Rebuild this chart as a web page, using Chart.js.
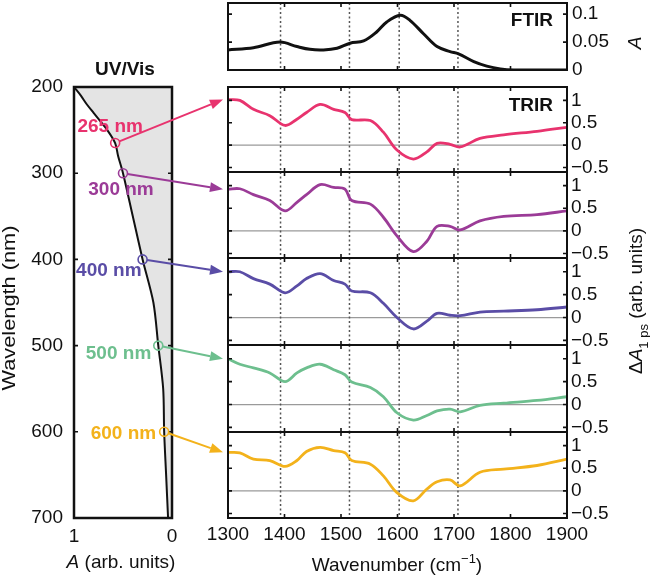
<!DOCTYPE html>
<html>
<head>
<meta charset="utf-8">
<script src="https://cdn.jsdelivr.net/npm/chart.js@4.4.1/dist/chart.umd.min.js"></script>
<style>
html, body { margin: 0; padding: 0; background: #fff; }
#wrap { position: relative; width: 650px; height: 577px; }
#wrap canvas { position: absolute; left: 0; top: 0; }
</style>
</head>
<body>
<div id="wrap">
  <canvas id="uv" width="650" height="577"></canvas>
  <canvas id="ftir" width="650" height="577"></canvas>
  <canvas id="tr0" width="650" height="577"></canvas>
  <canvas id="tr1" width="650" height="577"></canvas>
  <canvas id="tr2" width="650" height="577"></canvas>
  <canvas id="tr3" width="650" height="577"></canvas>
  <canvas id="tr4" width="650" height="577"></canvas>
  <canvas id="overlay" width="650" height="577"></canvas>
</div>
<script>
// ---- data ----
const uvWavelength = [200, 210, 220, 230, 240, 250, 265, 280, 300, 350, 400, 450, 500, 550, 600, 650, 700];
const uvAbs = [1.0, 0.93, 0.87, 0.80, 0.73, 0.66, 0.58, 0.55, 0.50, 0.40, 0.30, 0.19, 0.14, 0.09, 0.08, 0.06, 0.04];

const ftirWavenumber = [1300, 1345, 1392, 1422, 1445, 1469, 1493, 1516, 1540, 1563, 1581, 1605, 1622, 1646, 1670, 1693, 1708, 1735, 1758, 1782, 1806, 1850, 1900];
const ftirAbs = [0.036, 0.040, 0.050, 0.042, 0.037, 0.036, 0.039, 0.048, 0.052, 0.068, 0.086, 0.098, 0.089, 0.065, 0.042, 0.033, 0.029, 0.015, 0.007, 0.002, 0, 0, 0];

const trirWavenumber = [1300, 1321, 1345, 1374, 1401, 1422, 1439, 1463, 1487, 1507, 1519, 1552, 1575, 1599, 1628, 1652, 1670, 1693, 1711, 1746, 1788, 1847, 1900];
const trir265 = [1.02, 1.0, 0.80, 0.66, 0.44, 0.58, 0.73, 0.91, 0.80, 0.73, 0.57, 0.55, 0.29, -0.11, -0.31, -0.15, 0.04, 0.02, -0.04, 0.15, 0.23, 0.31, 0.40];
const trir300 = [0.92, 0.93, 0.80, 0.67, 0.44, 0.63, 0.80, 1.02, 0.96, 0.92, 0.67, 0.59, 0.30, -0.11, -0.46, -0.23, 0.10, 0.10, 0.02, 0.22, 0.32, 0.36, 0.44];
const trir400 = [1.0, 1.0, 0.85, 0.73, 0.54, 0.69, 0.85, 0.96, 0.81, 0.73, 0.58, 0.54, 0.31, 0, -0.25, -0.08, 0.09, 0.05, 0.04, 0.12, 0.14, 0.17, 0.23];
const trir500 = [1.0, 0.88, 0.80, 0.69, 0.50, 0.69, 0.80, 0.88, 0.76, 0.65, 0.49, 0.37, 0.17, -0.18, -0.34, -0.24, -0.14, -0.10, -0.16, -0.02, 0.03, 0.09, 0.17];
const trir600 = [0.85, 0.84, 0.70, 0.67, 0.54, 0.67, 0.87, 0.96, 0.89, 0.84, 0.67, 0.59, 0.33, -0.04, -0.22, 0.04, 0.20, 0.24, 0.11, 0.41, 0.48, 0.56, 0.70];
const trirSeries = [trir265, trir300, trir400, trir500, trir600];

const pumpWavelengths = [265, 300, 400, 500, 600];
const pumpLabels = ['265 nm', '300 nm', '400 nm', '500 nm', '600 nm'];
const pumpColors = ['#e8336e', '#9b3b97', '#5a4da6', '#6dbf8e', '#f3b21b'];

const markerLines = [1393, 1515, 1603, 1707];
const wnTicks = [1300, 1400, 1500, 1600, 1700, 1800, 1900];
const dATicks = [-0.5, 0, 0.5, 1];
const ftirTicks = [0, 0.05, 0.1];
const uvTicks = [200, 300, 400, 500, 600, 700];
const absTicks = [0, 1];

// ---- layout ----
const FONT = '"Liberation Sans", Arial, Helvetica, sans-serif';
Chart.defaults.font.family = FONT;
Chart.defaults.font.size = 19;
Chart.defaults.color = '#111';

const plotLeft = 228, plotRight = 567;
const panelEdges = [87, 172, 258, 345, 432, 518];
const fmt = v => (v < 0 ? '\u2212' + Math.abs(v) : String(v));
const setTicks = list => (s => { s.ticks = list.map(v => ({ value: v })); });
// fix an axis size and drop the label overflow padding so the plot box lands where we put it
const fixW = w => (s => { s.width = w; s.paddingTop = 0; s.paddingBottom = 0; });
const fixH = h => (s => { s.height = h; s.paddingLeft = 0; s.paddingRight = 0; });

// frame, inner ticks, dotted lines, zero line
const panelDeco = {
  id: 'panelDeco',
  beforeDatasetsDraw(chart, args, o) {
    const { ctx, chartArea: a, scales: { x, y } } = chart;
    ctx.save();
    if (o.zero) {
      const py = y.getPixelForValue(0);
      ctx.strokeStyle = '#9a9a9a'; ctx.lineWidth = 1.2;
      ctx.beginPath(); ctx.moveTo(a.left, py); ctx.lineTo(a.right, py); ctx.stroke();
    }
    if (o.markers) {
      ctx.strokeStyle = '#555'; ctx.lineWidth = 1.5; ctx.setLineDash([2, 2.5]);
      o.markers.forEach(m => {
        const px = x.getPixelForValue(m);
        ctx.beginPath(); ctx.moveTo(px, a.top); ctx.lineTo(px, a.bottom); ctx.stroke();
      });
      ctx.setLineDash([]);
    }
    ctx.restore();
  },
  afterDraw(chart, args, o) {
    const { ctx, chartArea: a, scales: { x, y } } = chart;
    const t = 4;
    ctx.save();
    ctx.strokeStyle = '#111'; ctx.lineWidth = 1.6;
    ctx.beginPath();
    (o.xTicks || []).forEach(v => {
      const px = x.getPixelForValue(v);
      ctx.moveTo(px, a.top); ctx.lineTo(px, a.top + t);
      ctx.moveTo(px, a.bottom); ctx.lineTo(px, a.bottom - t);
    });
    (o.yTicks || []).forEach(v => {
      const py = y.getPixelForValue(v);
      ctx.moveTo(a.left, py); ctx.lineTo(a.left + t, py);
      ctx.moveTo(a.right, py); ctx.lineTo(a.right - t, py);
    });
    ctx.stroke();
    ctx.lineWidth = o.frame || 2;
    ctx.strokeRect(a.left, a.top, a.right - a.left, a.bottom - a.top);
    ctx.restore();
  }
};

// ---- UV/Vis ----
const uvChart = new Chart(document.getElementById('uv'), {
  type: 'line',
  data: {
    datasets: [{
      data: uvWavelength.map((w, i) => ({ x: uvAbs[i], y: w })),
      borderColor: '#111', borderWidth: 2, pointRadius: 0, tension: 0.3,
      fill: 'origin', backgroundColor: '#e4e4e4'
    }]
  },
  options: {
    responsive: false, animation: false, indexAxis: 'y',
    layout: { padding: { left: 14, right: 650 - 172, top: 87, bottom: 577 - 518 - 40 } },
    plugins: { legend: { display: false }, tooltip: { enabled: false },
      panelDeco: { yTicks: uvTicks, frame: 2.5 } },
    scales: {
      x: { type: 'linear', min: 0, max: 1, reverse: true, position: 'bottom',
        grid: { display: false, drawTicks: false }, border: { display: false },
        afterBuildTicks: setTicks(absTicks),
        ticks: { padding: 7, callback: fmt, maxRotation: 0 },
        afterFit: fixH(40) },
      y: { type: 'linear', min: 200, max: 700, reverse: true, position: 'left',
        grid: { display: false, drawTicks: false }, border: { display: false },
        afterBuildTicks: setTicks(uvTicks),
        ticks: { padding: 11, callback: fmt },
        afterFit: fixW(60) }
    }
  },
  plugins: [panelDeco]
});

// ---- FTIR ----
const ftirChart = new Chart(document.getElementById('ftir'), {
  type: 'line',
  data: {
    datasets: [{
      data: ftirWavenumber.map((w, i) => ({ x: w, y: ftirAbs[i] })),
      borderColor: '#111', borderWidth: 3, pointRadius: 0, tension: 0.35, fill: false
    }]
  },
  options: {
    responsive: false, animation: false,
    layout: { padding: { left: plotLeft, right: 650 - plotRight - 60, top: 3, bottom: 577 - 70 } },
    plugins: { legend: { display: false }, tooltip: { enabled: false },
      panelDeco: { xTicks: wnTicks, yTicks: ftirTicks, markers: markerLines } },
    scales: {
      x: { type: 'linear', min: 1300, max: 1900,
        grid: { display: false, drawTicks: false }, border: { display: false }, ticks: { display: false },
        afterFit: fixH(0) },
      y: { type: 'linear', min: 0, max: 0.12, position: 'right',
        grid: { display: false, drawTicks: false }, border: { display: false },
        afterBuildTicks: setTicks(ftirTicks),
        ticks: { padding: 5, callback: fmt },
        afterFit: fixW(60) }
    }
  },
  plugins: [panelDeco]
});

// ---- TRIR panels ----
const trCharts = trirSeries.map((series, i) => {
  const last = i === trirSeries.length - 1;
  const xh = last ? 30 : 0;
  return new Chart(document.getElementById('tr' + i), {
    type: 'line',
    data: {
      datasets: [{
        data: trirWavenumber.map((w, k) => ({ x: w, y: series[k] })),
        borderColor: pumpColors[i], borderWidth: 2.8, pointRadius: 0, tension: 0.35, fill: false
      }]
    },
    options: {
      responsive: false, animation: false,
      layout: { padding: { left: plotLeft, right: 650 - plotRight - 60,
        top: panelEdges[i], bottom: 577 - panelEdges[i + 1] - xh } },
      plugins: { legend: { display: false }, tooltip: { enabled: false },
        panelDeco: { xTicks: wnTicks, yTicks: dATicks, markers: markerLines, zero: true } },
      scales: {
        x: { type: 'linear', min: 1300, max: 1900,
          grid: { display: false, drawTicks: false }, border: { display: false },
          afterBuildTicks: setTicks(wnTicks),
          ticks: { display: last, padding: 5, maxRotation: 0, autoSkip: false, callback: fmt },
          afterFit: fixH(xh) },
        y: { type: 'linear', min: -0.6, max: 1.3, position: 'right',
          grid: { display: false, drawTicks: false }, border: { display: false },
          afterBuildTicks: setTicks(dATicks),
          ticks: { padding: 4, callback: fmt },
          afterFit: fixW(60) }
      }
    },
    plugins: [panelDeco]
  });
});

// ---- overlay: pump markers, arrows, titles ----
const labelOffsets = [[-5, -16, 'center'], [-2, 17, 'center'], [-1, 11, 'right'], [-7, 8, 'right'], [-8, 2, 'right']];
const ov = document.getElementById('overlay').getContext('2d');
const FB = 'bold 19px ' + FONT;

pumpWavelengths.forEach((wl, i) => {
  const k = uvWavelength.indexOf(wl);
  const cx = uvChart.scales.x.getPixelForValue(uvAbs[k]);
  const cy = uvChart.scales.y.getPixelForValue(wl);
  const tc = trCharts[i];
  const tx = tc.chartArea.left - 5;
  const ty = tc.scales.y.getPixelForValue(trirSeries[i][0]);
  const r = 4.5;
  const ang = Math.atan2(ty - cy, tx - cx);
  const head = 13, half = 5;
  const col = pumpColors[i];

  ov.save();
  ov.strokeStyle = col; ov.fillStyle = col;
  ov.lineWidth = 1.6;
  ov.beginPath(); ov.arc(cx, cy, r, 0, Math.PI * 2); ov.stroke();
  ov.lineWidth = 2;
  ov.beginPath();
  ov.moveTo(cx + r * Math.cos(ang), cy + r * Math.sin(ang));
  ov.lineTo(tx - head * Math.cos(ang), ty - head * Math.sin(ang));
  ov.stroke();
  ov.beginPath();
  ov.moveTo(tx, ty);
  ov.lineTo(tx - head * Math.cos(ang) + half * Math.sin(ang), ty - head * Math.sin(ang) - half * Math.cos(ang));
  ov.lineTo(tx - head * Math.cos(ang) - half * Math.sin(ang), ty - head * Math.sin(ang) + half * Math.cos(ang));
  ov.closePath(); ov.fill();

  const [dx, dy, al] = labelOffsets[i];
  ov.font = FB;
  ov.textAlign = al; ov.textBaseline = 'middle';
  ov.fillText(pumpLabels[i], cx + dx, cy + dy);
  ov.restore();
});

ov.fillStyle = '#111';
ov.textBaseline = 'middle';
ov.textAlign = 'center';
ov.font = FB;
ov.fillText('UV/Vis', 125, 70);
ov.textAlign = 'right';
ov.fillText('FTIR', 553, 21);
ov.fillText('TRIR', 553, 106);

// multi-font text runs, optionally rotated and stretched to a target length
function runs(x, y, parts, rot, len) {
  ov.save();
  ov.translate(x, y);
  if (rot) ov.rotate(-Math.PI / 2);
  let w = 0;
  parts.forEach(p => { ov.font = p.f; w += ov.measureText(p.t).width; });
  if (len) ov.scale(len / w, 1);
  let px = -w / 2;
  ov.textAlign = 'left';
  parts.forEach(p => { ov.font = p.f; ov.fillText(p.t, px, p.dy || 0); px += ov.measureText(p.t).width; });
  ov.restore();
}
const F = '19px ' + FONT, FI = 'italic 19px ' + FONT, FS = '13px ' + FONT;

runs(10, 308, [{ t: 'Wavelength (nm)', f: F }], true, 165);
runs(636, 43, [{ t: 'A', f: FI }], true);
runs(637, 301, [{ t: '\u0394', f: F }, { t: 'A', f: FI }, { t: '1 ps', f: FS, dy: 7 }, { t: ' (arb. units)', f: F }], true);
runs(121, 563, [{ t: 'A', f: FI }, { t: ' (arb. units)', f: F }]);
runs(397, 566, [{ t: 'Wavenumber (cm', f: F }, { t: '\u22121', f: FS, dy: -7 }, { t: ')', f: F }]);
</script>
</body>
</html>
